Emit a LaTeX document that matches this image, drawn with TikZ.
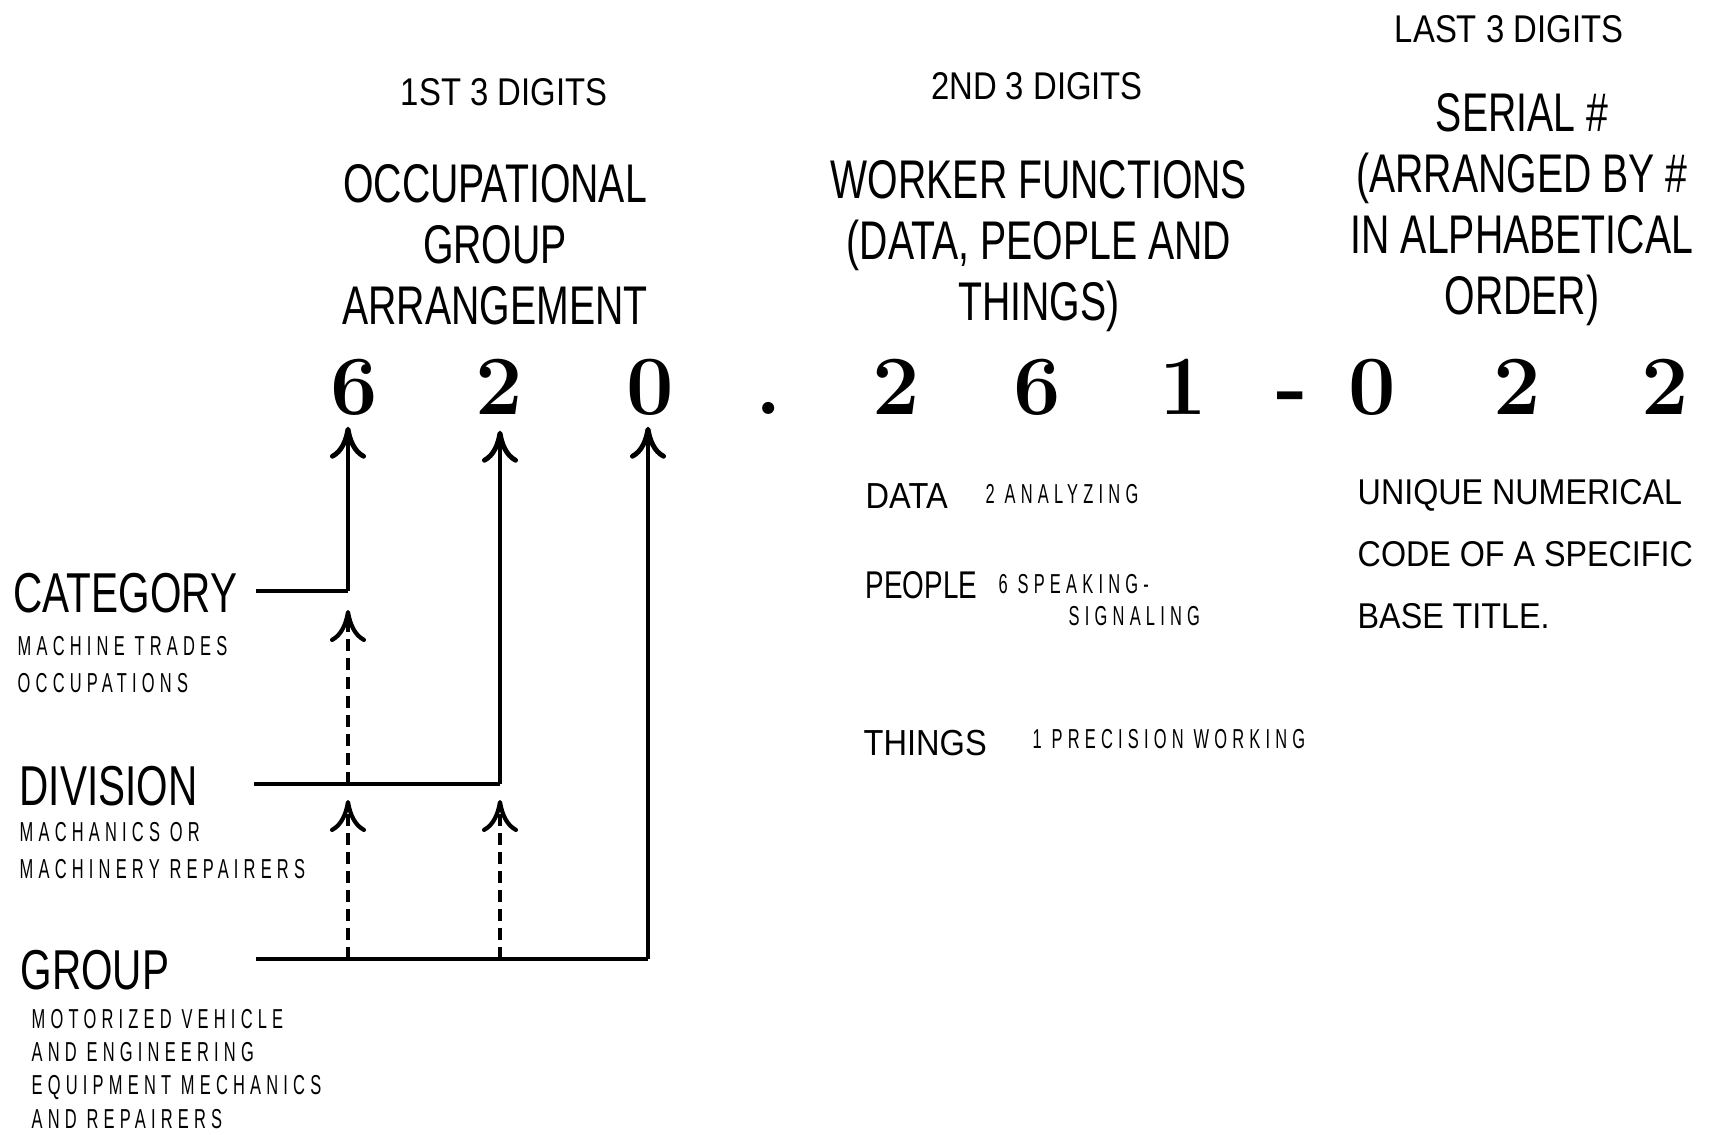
\documentclass[tikz,border=0pt]{standalone}
\definecolor{CodeInk}{rgb}{0.0, 0.0, 0.0}
\usepackage{fontspec}
\newfontfamily\headfont[FakeStretch=0.72]{Liberation Sans}
\newfontfamily\subheadfont[FakeStretch=0.85]{Liberation Sans}
\newfontfamily\bodyfont[FakeStretch=0.9]{Liberation Sans}
\newfontfamily\notefont[FakeStretch=0.6,LetterSpace=19]{Liberation Sans}
\usepackage{tikz}
\usetikzlibrary{arrows.meta}

\begin{document}
\begin{tikzpicture}[
        >={Computer Modern Rightarrow[length=3.2mm,width=3.6mm]},
        every node/.style={inner sep=0pt, text=CodeInk},
        digit/.style={anchor=base, font=\fontsize{24}{24}\selectfont\bfseries},
        head/.style={anchor=base, align=center, font=\headfont\fontsize{15.5}{17.3}\selectfont},
        subhead/.style={anchor=base, font=\subheadfont\fontsize{11}{13}\selectfont},
        level/.style={anchor=base west, font=\headfont\fontsize{16}{18}\selectfont},
        note/.style={anchor=base west, align=left, font=\notefont\fontsize{7.8}{10.5}\selectfont},
        body/.style={anchor=base west, align=left, font=\bodyfont\fontsize{10.3}{17.4}\selectfont},
        rule/.style={draw=CodeInk, line width=0.9pt},
        link/.style={draw=CodeInk, line width=1.4pt, ->},
        dashlink/.style={draw=CodeInk, line width=1.2pt, ->, dash pattern=on 1.2mm off 0.7mm}
    ]
        \useasboundingbox (0,0) rectangle (17.29,-11.34);

        \node[subhead] (first) at (5.04,-1.05) {1ST 3 DIGITS};
        \node[subhead] (second) at (10.37,-0.99) {2ND 3 DIGITS};
        \node[subhead] (last) at (15.09,-0.42) {LAST 3 DIGITS};
        \node[head] (occgroup) at (4.95,-3.24) {OCCUPATIONAL\\GROUP\\ARRANGEMENT};
        \node[head] (workfn) at (10.39,-3.20) {WORKER FUNCTIONS\\(DATA, PEOPLE AND\\THINGS)};
        \node[head] (serial) at (15.22,-3.14) {SERIAL \#\\(ARRANGED BY \#\\IN ALPHABETICAL\\ORDER)};

        \node[digit] (d1) at (3.54,-4.14) {6};
        \node[digit] (d2) at (4.99,-4.14) {2};
        \node[digit] (d3) at (6.50,-4.14) {0};
        \node[digit] (dot) at (7.69,-4.14) {.};
        \node[digit] (d4) at (8.96,-4.14) {2};
        \node[digit] (d5) at (10.37,-4.14) {6};
        \node[digit] (d6) at (11.83,-4.14) {1};
        \node[digit] (dash) at (12.92,-4.14) {-};
        \node[digit] (d7) at (13.72,-4.14) {0};
        \node[digit] (d8) at (15.17,-4.14) {2};
        \node[digit] (d9) at (16.65,-4.14) {2};

        \node[level] (category) at (0.13,-6.12) {CATEGORY};
        \node[note] (catnote) at (0.17,-6.92) {MACHINE TRADES\\OCCUPATIONS};
        \node[level] (division) at (0.19,-8.05) {DIVISION};
        \node[note] (divnote) at (0.19,-8.78) {MACHANICS OR\\MACHINERY REPAIRERS};
        \node[level] (group) at (0.20,-9.89) {GROUP};
        \node[note, font=\notefont\fontsize{7.8}{9.4}\selectfont] (grpnote) at (0.31,-11.28) {MOTORIZED VEHICLE\\AND ENGINEERING\\EQUIPMENT MECHANICS\\AND REPAIRERS};

        \node[body] (data) at (8.65,-5.08) {DATA};
        \node[note] (datanote) at (9.85,-5.03) {2 ANALYZING};
        \node[body, font=\headfont\fontsize{11}{13}\selectfont] (people) at (8.65,-5.98) {PEOPLE};
        \node[note] (peoplenote) at (9.98,-5.93) {6 SPEAKING-};
        \node[note] (peoplenote2) at (10.68,-6.25) {SIGNALING};
        \node[body] (things) at (8.63,-7.55) {THINGS};
        \node[note] (thingsnote) at (10.32,-7.48) {1 PRECISION WORKING};
        \node[body, font=\bodyfont\fontsize{10.2}{17.6}\selectfont] (unique) at (13.57,-6.28) {UNIQUE NUMERICAL\\CODE OF A SPECIFIC\\BASE TITLE.};

        \coordinate (catL) at (2.56,-5.91);
        \coordinate (catJ) at (3.48,-5.91);
        \coordinate (divL) at (2.54,-7.84);
        \coordinate (divJ) at (5.00,-7.84);
        \coordinate (grpL) at (2.56,-9.59);
        \coordinate (grpJ) at (6.48,-9.59);

        \draw[rule] (catL) -- (catJ);
        \draw[rule] (divL) -- (divJ);
        \draw[rule] (grpL) -- (grpJ);
        \draw[link, shorten >=1.1mm] (catJ) -- (d1.south -| catJ);
        \draw[link, shorten >=1.6mm] (divJ) -- (d2.south -| divJ);
        \draw[link, shorten >=1.1mm] (grpJ) -- (d3.south -| grpJ);
        \draw[dashlink] (divL -| catJ) -- ([yshift=-1.9mm]catJ);
        \draw[dashlink] (grpL -| catJ) -- ([yshift=-1.6mm]divL -| catJ);
        \draw[dashlink] (grpL -| divJ) -- ([yshift=-1.6mm]divJ);
    \end{tikzpicture}
\end{document}
